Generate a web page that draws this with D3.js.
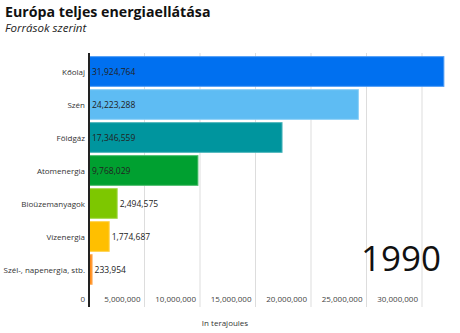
<!DOCTYPE html>
<html><head><meta charset="utf-8">
<script src="https://cdn.jsdelivr.net/npm/d3@7"></script>
<style>
body{margin:0;background:#fff;font-family:"Open Sans",sans-serif;}
</style></head>
<body><svg id="c" width="460" height="333"></svg>
<script>
const categories = ["Kőolaj","Szén","Földgáz","Atomenergia","Bioüzemanyagok","Vízenergia","Szél-, napenergia, stb."];
const values = [31924764,24223288,17346559,9768029,2494575,1774687,233954];
const colors = ["#0070f0","#5ebcf3","#00959e","#00a030","#7dc700","#ffbf00","#ff8c1a"];
const strokes = ["#4d9bf5","#8dd0f7","#4db5bb","#4dbd6e","#a5d94d","#ffd24d","#ffaf5e"];
const tickValues = [0,5000000,10000000,15000000,20000000,25000000,30000000];
const title = "Európa teljes energiaellátása";
const subtitle = "Források szerint";
const axisTitle = "In terajoules";
const yearLabel = "1990";

const svg = d3.select("#c");
const x = d3.scaleLinear().domain([0,35000000]).range([89,477.5]);
const y = d3.scaleBand().domain(categories).range([55,286]).paddingInner(0.1).paddingOuter(0.05);
const fmt = d3.format(",");

svg.append("text").attr("x",5).attr("y",17).attr("font-size",14.2).attr("font-weight",700).attr("fill","#111").text(title);
svg.append("text").attr("x",5).attr("y",32).attr("font-size",11.5).attr("font-style","italic").attr("fill","#222").text(subtitle);

// grid
svg.append("g").selectAll("line").data(tickValues.slice(1)).join("line")
  .attr("x1",d=>x(d)).attr("x2",d=>x(d)).attr("y1",53).attr("y2",307)
  .attr("stroke","#ddd").attr("stroke-width",1);

// tick labels
svg.append("g").selectAll("text").data(tickValues).join("text")
  .attr("x",d=>x(d)-4).attr("y",302).attr("text-anchor","end")
  .attr("font-size",8).attr("fill","#444").text(d=>fmt(d));

// bars
svg.append("g").selectAll("rect").data(values).join("rect")
  .attr("x",x(0)+0.5).attr("y",(d,i)=>y(categories[i]))
  .attr("width",d=>x(d)-x(0)).attr("height",y.bandwidth())
  .attr("fill",(d,i)=>colors[i]).attr("stroke",(d,i)=>strokes[i]).attr("stroke-width",1);

// value labels
svg.append("g").selectAll("text").data(values).join("text")
  .attr("x",d=> d>5000000 ? x(0)+3 : x(d)+3)
  .attr("y",(d,i)=>y(categories[i])+y.bandwidth()/2+3)
  .attr("font-size",8.5).attr("fill","#222").text(d=>fmt(d));

// category labels
svg.append("g").selectAll("text").data(categories).join("text")
  .attr("x",85).attr("y",d=>y(d)+y.bandwidth()/2+3).attr("text-anchor","end")
  .attr("font-size",8).attr("fill","#333").text(d=>d);

// axis line
svg.append("line").attr("x1",x(0)).attr("x2",x(0)).attr("y1",53).attr("y2",307)
  .attr("stroke","#222").attr("stroke-width",2);

svg.append("text").attr("x",225).attr("y",326).attr("text-anchor","middle")
  .attr("font-size",8).attr("fill","#333").text(axisTitle);

svg.append("text").attr("x",441).attr("y",271).attr("text-anchor","end")
  .attr("font-size",35).attr("fill","#111").text(yearLabel);
</script></body></html>
